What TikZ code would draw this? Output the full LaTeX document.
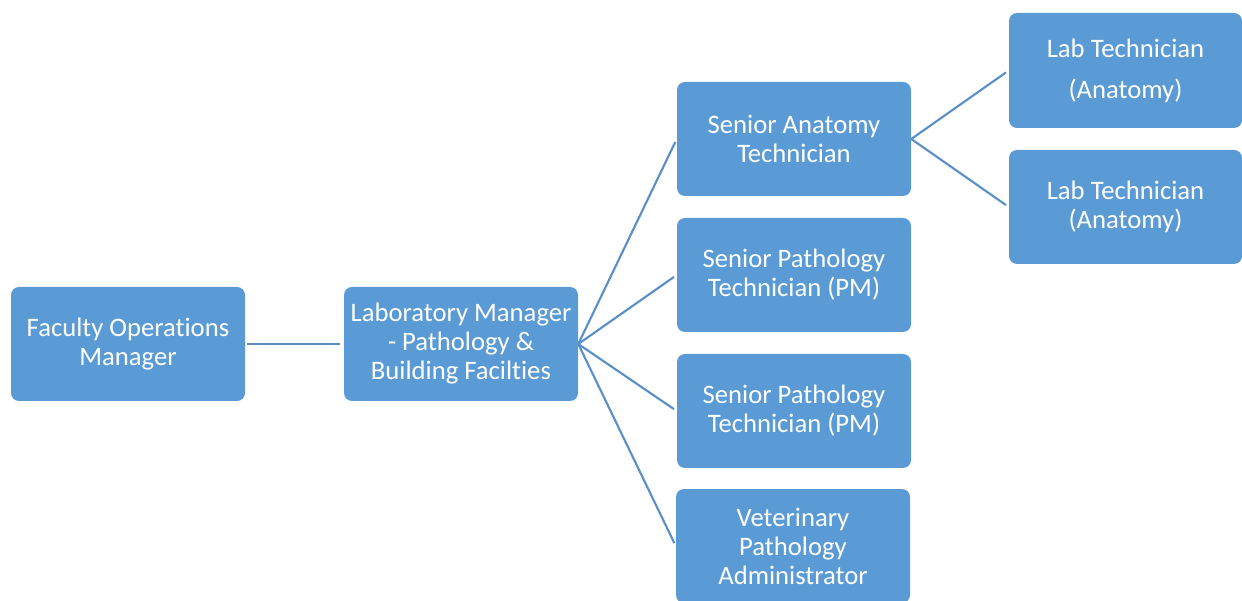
\documentclass[tikz,border=0pt]{standalone}
\usepackage{fontspec}
\setmainfont[RawFeature={-liga;-clig;-calt;-dlig}]{Carlito}
\usepackage{xcolor}
\usetikzlibrary{positioning}
\definecolor{boxblue}{HTML}{5B9BD5}
\definecolor{lineblue}{HTML}{5A8FC8}

\begin{document}
\begin{tikzpicture}[
				x=0.75pt, y=0.75pt,
				orgbox/.style={rectangle, rounded corners=6pt, fill=boxblue, text=white, minimum width=175.5pt, minimum height=85.5pt, align=center, font=\fontsize{20}{21.75}\selectfont, inner sep=2pt},
				link/.style={draw=lineblue, line width=1.6pt, shorten >=2.5pt},
				]
				\useasboundingbox (0,0) rectangle (1242,600);
				%Nodes
				\node[orgbox](fom) at (128,256){Faculty Operations\\Manager};
				\node[orgbox](lm) at (461,256){Laboratory Manager\\- Pathology \&\\Building Facilties};
				\node[orgbox](sat) at (794,461){Senior Anatomy\\Technician};
				\node[orgbox](spt1) at (794,325){Senior Pathology\\Technician (PM)};
				\node[orgbox](spt2) at (794,189){Senior Pathology\\Technician (PM)};
				\node[orgbox](vpa) at (793,54){Veterinary\\Pathology\\Administrator};
				\node[orgbox, minimum width=174.75pt, minimum height=86.25pt](lt1) at (1125.5,529.5){Lab Technician\\[9pt](Anatomy)};
				\node[orgbox, minimum width=174.75pt](lt2) at (1125.5,393){Lab Technician\\(Anatomy)};
				
				%Lines
				
				\draw[link, shorten <=1.5pt] (fom.east) -- (lm.west);
				\draw[link] (lm.east) -- (sat.west);
				\draw[link] (lm.east) -- (spt1.west);
				\draw[link] (lm.east) -- (spt2.west);
				\draw[link] (lm.east) -- (vpa.west);
				\draw[link] (sat.east) -- (lt1.west);
				\draw[link] (sat.east) -- (lt2.west);
				
			\end{tikzpicture}
\end{document}
